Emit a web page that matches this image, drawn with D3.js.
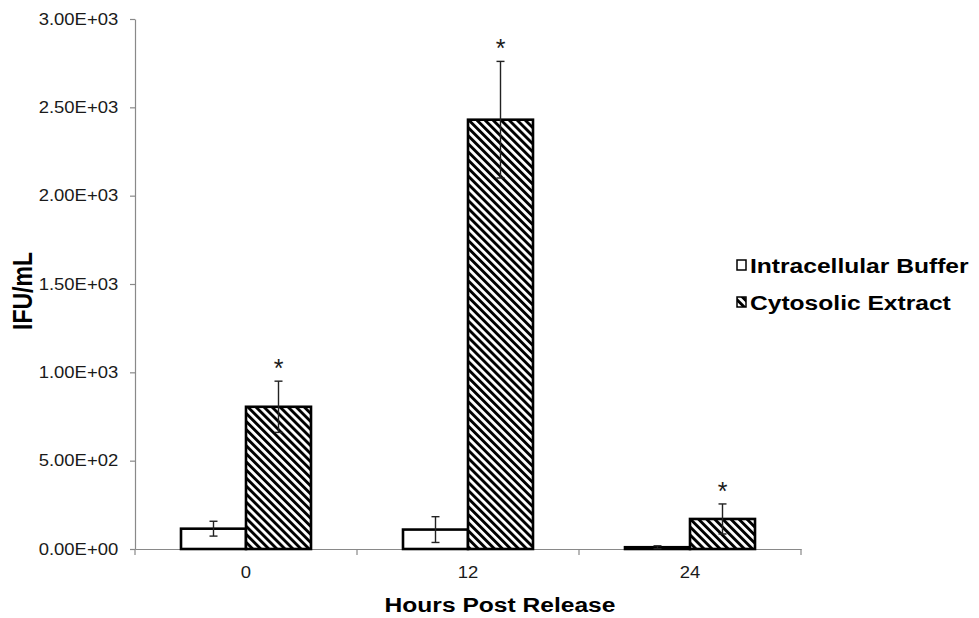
<!DOCTYPE html>
<html>
<head>
<meta charset="utf-8">
<script src="https://cdn.jsdelivr.net/npm/d3@7"></script>
<style>
  body { margin: 0; background: #fff; }
  svg { display: block; font-family: "Liberation Sans", Arial, sans-serif; }
</style>
</head>
<body>
<svg id="chart" width="979" height="618"></svg>
<script>
// values
var hours = ["0", "12", "24"];
var seriesNames = ["Intracellular Buffer", "Cytosolic Extract"];
var intracellular = [115, 110, 10];
var intracellularErr = [42, 73, 8];
var intracellularStar = [false, false, false];
var cytosolic = [805, 2430, 170];
var cytosolicErr = [145, 330, 85];
var cytosolicStar = [true, true, true];
var yTicks = [0, 500, 1000, 1500, 2000, 2500, 3000];

var my = {
  svg: d3.select("#chart"),
  left: 135, right: 801, top: 19, bottom: 549,
  barW: 65,
  stretch: 1.2, // source image is wider than tall
  axisColor: "#898989",
  textColor: "#1a1a1a"
};

var x = d3.scaleBand().domain(hours).range([my.left, my.right]).padding(0);
var y = d3.scaleLinear().domain([0, 3000]).range([my.bottom, my.top]);

// hatch pattern: diagonal stripes going down to the right
var defs = my.svg.append("defs");
defs.append("pattern")
  .attr("id", "hatch")
  .attr("patternUnits", "userSpaceOnUse")
  .attr("width", 5.7).attr("height", 5.7)
  .attr("patternTransform", "rotate(-45)")
  .call(function(p){
    p.append("rect").attr("width", 5.7).attr("height", 5.7).attr("fill", "#fff");
    p.append("rect").attr("width", 2.9).attr("height", 5.7).attr("fill", "#000");
  });

// y axis
var yAxis = my.svg.append("g")
  .attr("transform", "translate(" + my.left + ",0)")
  .call(d3.axisLeft(y).tickValues(yTicks).tickSizeInner(5).tickSizeOuter(0).tickPadding(10)
    .tickFormat(function(d){ return d3.format(".2e")(d).replace("e", "E").replace(/E([+-])(\d)$/, "E$10$2"); }));
yAxis.select(".domain").attr("stroke", my.axisColor).attr("stroke-width", 1.2);
yAxis.selectAll(".tick line").attr("stroke", my.axisColor).attr("stroke-width", 1.2);
yAxis.selectAll(".tick text")
  .attr("fill", my.textColor)
  .style("font-size", "16.5px")
  .attr("transform", "scale(1.12,1)");

// x axis: labels at centres, ticks at band edges
var xAxis = my.svg.append("g")
  .attr("transform", "translate(0," + my.bottom + ")")
  .call(d3.axisBottom(x).tickSize(0).tickPadding(17));
xAxis.select(".domain").attr("stroke", my.axisColor).attr("stroke-width", 1.2);
xAxis.selectAll(".tick text")
  .attr("fill", my.textColor)
  .style("font-size", "16.5px")
  .attr("transform", "scale(1.12,1)");
xAxis.selectAll("line.edge")
  .data(hours.map(function(h){ return x(h); }).concat([my.right]))
  .enter().append("line")
  .attr("class", "edge")
  .attr("x1", function(d){ return d; }).attr("x2", function(d){ return d; })
  .attr("y1", 0).attr("y2", 6)
  .attr("stroke", my.axisColor).attr("stroke-width", 1.2);

// bars
var bars = [];
hours.forEach(function(h, i){
  var c = x(h) + x.bandwidth() / 2;
  bars.push({x: c - my.barW, v: intracellular[i], e: intracellularErr[i], star: intracellularStar[i], fill: "#fff"});
  bars.push({x: c, v: cytosolic[i], e: cytosolicErr[i], star: cytosolicStar[i], fill: "url(#hatch)"});
});

my.svg.append("g").selectAll("rect")
  .data(bars).enter().append("rect")
  .attr("x", function(d){ return d.x; })
  .attr("y", function(d){ return y(d.v); })
  .attr("width", my.barW)
  .attr("height", function(d){ return Math.max(1, y(0) - y(d.v)); })
  .attr("fill", function(d){ return d.fill; })
  .attr("stroke", "#000").attr("stroke-width", 2.6);

// error bars
var err = my.svg.append("g").attr("stroke", "#222").attr("stroke-width", 1.4);
bars.forEach(function(b){
  var cx = b.x + my.barW / 2;
  err.append("line").attr("x1", cx).attr("x2", cx).attr("y1", y(b.v + b.e)).attr("y2", y(b.v - b.e));
  [b.v + b.e, b.v - b.e].forEach(function(v){
    err.append("line").attr("x1", cx - 4).attr("x2", cx + 4).attr("y1", y(v)).attr("y2", y(v));
  });
});

// asterisks
my.svg.append("g").selectAll("text")
  .data(bars.filter(function(b){ return b.star; }))
  .enter().append("text")
  .attr("x", function(d){ return d.x + my.barW / 2; })
  .attr("y", function(d){ return y(d.v + d.e) - 4; })
  .attr("text-anchor", "middle")
  .attr("fill", my.textColor)
  .style("font-size", "25px")
  .text("*");

// axis titles
my.svg.append("text")
  .attr("transform", "translate(500,612) scale(" + my.stretch + ",1)")
  .attr("text-anchor", "middle")
  .attr("fill", "#000")
  .style("font-size", "20.5px").style("font-weight", "bold")
  .text("Hours Post Release");

my.svg.append("text")
  .attr("transform", "translate(32,291) scale(" + my.stretch + ",1) rotate(-90)")
  .attr("text-anchor", "middle")
  .attr("fill", "#000")
  .style("font-size", "23px").style("font-weight", "bold")
  .text("IFU/mL");

// legend
var legend = my.svg.append("g");
seriesNames.forEach(function(name, i){
  var ly = 273 + i * 37;
  legend.append("rect")
    .attr("x", 737).attr("y", ly - 13).attr("width", 9).attr("height", 10)
    .attr("fill", i === 0 ? "#fff" : "url(#hatch)")
    .attr("stroke", "#000").attr("stroke-width", 1.5);
  legend.append("text")
    .attr("transform", "translate(750," + ly + ") scale(" + my.stretch + ",1)")
    .attr("fill", "#000")
    .style("font-size", "20.5px").style("font-weight", "bold")
    .text(name);
});
</script>
</body>
</html>
